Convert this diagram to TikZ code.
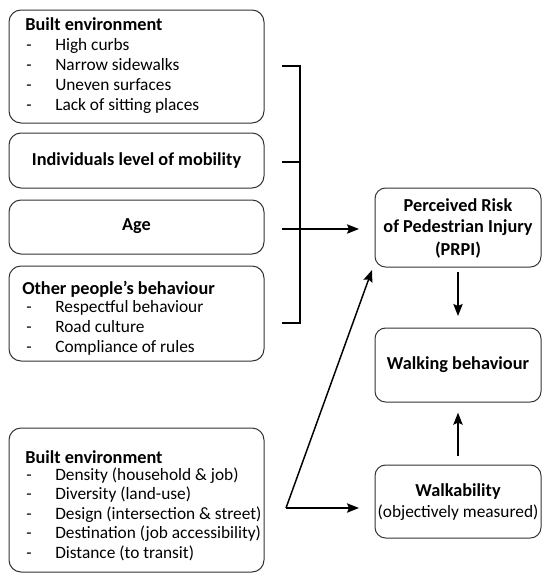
\documentclass[tikz,border=0pt]{standalone}
\usepackage{fontspec}
\setmainfont{Carlito}
\usetikzlibrary{arrows.meta}
\begin{document}
\begin{tikzpicture}[x=0.75pt,y=-0.75pt,
  box/.style={draw=black!80, line width=0.75pt, rounded corners=9pt, inner sep=0pt, outer sep=0pt, minimum width=191.25pt},
  rbox/.style={draw=black!80, line width=0.75pt, rounded corners=8pt, inner sep=0pt, outer sep=0pt, minimum width=124.5pt},
  ttl/.style={font=\fontsize{13.7}{16}\selectfont\bfseries, inner sep=0pt, anchor=base west},
  ctl/.style={font=\fontsize{13.7}{16}\selectfont\bfseries, inner sep=0pt, align=center},
  itm/.style={font=\fontsize{13}{16}\selectfont, inner sep=0pt, anchor=base west},
  dsh/.style={font=\fontsize{13}{16}\selectfont, inner sep=0pt, anchor=base},
  con/.style={line width=1.1pt},
  arr/.style={line width=1.1pt, -{Stealth[length=9pt,width=7pt,inset=1.5pt]}}
]
\useasboundingbox (0,0) rectangle (543,575);
% left boxes
\node[box, minimum height=84.75pt] (b1) at (136.5,66.5) {};
\node[box, minimum height=41.25pt] (b2) at (136.5,160.5) {};
\node[box, minimum height=40.5pt] (b3) at (136.5,227) {};
\node[box, minimum height=71.25pt] (b4) at (136.5,313.5) {};
\node[box, minimum height=108pt] (b5) at (136.5,500) {};
% right boxes
\node[rbox, minimum height=59.25pt] (prpi) at (458,227.5) {};
\node[rbox, minimum height=55.5pt] (walk) at (458,365) {};
\node[rbox, minimum height=54.75pt] (wab) at (458,501.5) {};
% box 1 text
\node[ttl] (t1) at (25,30) {Built environment};
\node[dsh] (d11) at (29,50) {-}; \node[itm] (i11) at (55,50) {High curbs};
\node[dsh] (d12) at (29,70) {-}; \node[itm] (i12) at (55,70) {Narrow sidewalks};
\node[dsh] (d13) at (29,90) {-}; \node[itm] (i13) at (55,90) {Uneven surfaces};
\node[dsh] (d14) at (29,110) {-}; \node[itm] (i14) at (55,110) {Lack of sitting places};
% box 2,3
\node[ctl] (t2) at (136.5,160.5) {Individuals level of mobility};
\node[ctl] (t3) at (136.5,226) {Age};
% box 4
\node[ttl] (t4) at (22,294) {Other people’s behaviour};
\node[dsh] (d41) at (29,312) {-}; \node[itm] (i41) at (55,312) {Respectful behaviour};
\node[dsh] (d42) at (29,332) {-}; \node[itm] (i42) at (55,332) {Road culture};
\node[dsh] (d43) at (29,352) {-}; \node[itm] (i43) at (55,352) {Compliance of rules};
% box 5
\node[ttl] (t5) at (25,463) {Built environment};
\node[dsh] (d51) at (29,480) {-}; \node[itm] (i51) at (55,480) {Density (household \& job)};
\node[dsh] (d52) at (29,499) {-}; \node[itm] (i52) at (55,499) {Diversity (land-use)};
\node[dsh] (d53) at (29,519) {-}; \node[itm] (i53) at (55,519) {Design (intersection \& street)};
\node[dsh] (d54) at (29,538) {-}; \node[itm] (i54) at (55,538) {Destination (job accessibility)};
\node[dsh] (d55) at (29,558) {-}; \node[itm] (i55) at (55,558) {Distance (to transit)};
% right texts
\node[ctl] (tp1) at (458,205) {Perceived Risk};
\node[ctl] (tp2) at (458,227.5) {of Pedestrian Injury};
\node[ctl] (tp3) at (458,250) {(PRPI)};
\node[ctl] (tw) at (458,365) {Walking behaviour};
\node[ctl] (tk1) at (458,492) {Walkability};
\node[itm, anchor=center] (tk2) at (458,513) {(objectively measured)};
% bracket
\coordinate (k1) at (282,66);
\coordinate (k2) at (282,162);
\coordinate (k3) at (282,229);
\coordinate (k4) at (282,323);
\coordinate (v1) at (300,66);
\coordinate (v2) at (300,162);
\coordinate (v4) at (300,323);
\draw[con] (k1) -- (v1) -- (v4) -- (k4);
\draw[con] (k2) -- (v2);
\coordinate (a3) at (359,229);
\draw[arr] (k3) -- (a3);
% vertical arrows
\draw[arr, shorten <=3.75pt, shorten >=9pt] (prpi.south) -- (walk.north);
\draw[arr, shorten <=6.75pt, shorten >=8pt] (wab.north) -- (walk.south);
% fork
\coordinate (fk) at (286,508);
\coordinate (fw) at (359,508);
\coordinate (fp) at (372,270);
\draw[arr] (fk) -- (fw);
\draw[arr] (fk) -- (fp);
\end{tikzpicture}
\end{document}
